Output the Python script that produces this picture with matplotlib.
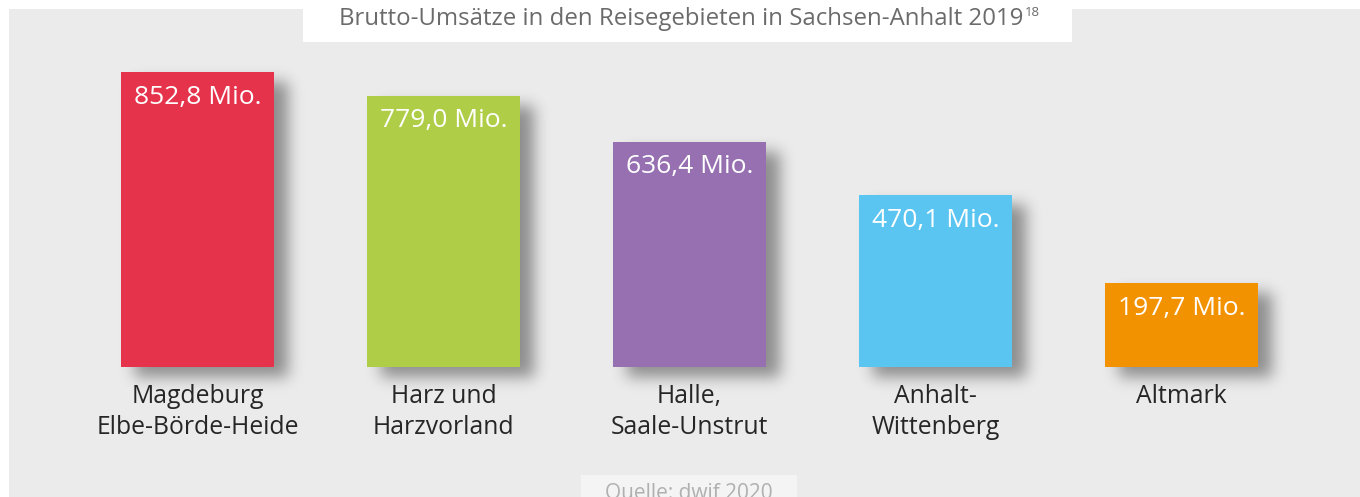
import numpy as np
import matplotlib
matplotlib.use("Agg")
import matplotlib.pyplot as plt
from matplotlib.patches import Rectangle

# ---- data ----
categories = ["Magdeburg\nElbe-Börde-Heide", "Harz und\nHarzvorland", "Halle,\nSaale-Unstrut",
              "Anhalt-\nWittenberg", "Altmark"]
values = [852.8, 779.0, 636.4, 470.1, 197.7]
value_labels = ["852,8 Mio.", "779,0 Mio.", "636,4 Mio.", "470,1 Mio.", "197,7 Mio."]
colors = ["#e6334c", "#afcd46", "#9670b0", "#5bc5f2", "#f39200"]
title = "Brutto-Umsätze in den Reisegebieten in Sachsen-Anhalt 2019"
title_sup = "18"
source = "Quelle: dwif 2020"

W, H = 1360, 497
DPI = 100
plt.rcParams['font.family'] = ['Open Sans', 'DejaVu Sans']

fig = plt.figure(figsize=(W / DPI, H / DPI), dpi=DPI)
fig.patch.set_facecolor("white")

# background axes in pixel coordinates
bg = fig.add_axes([0, 0, 1, 1], zorder=0)
bg.set_xlim(0, W)
bg.set_ylim(H, 0)
bg.axis("off")
bg.add_patch(Rectangle((9, 9), W - 9, H, facecolor="#ebebeb", edgecolor="none", zorder=0))
bg.add_patch(Rectangle((303, -2), 769, 44, facecolor="white", edgecolor="none", zorder=3))
t = bg.text(681, 19, title, ha="center", va="center", fontsize=17.3, color="#6b6b6b", zorder=4)
bg.annotate(title_sup, xy=(1, 0.78), xycoords=t, xytext=(1, 0), textcoords="offset points",
            ha="left", va="center", fontsize=9.5, color="#6b6b6b", zorder=4)
bg.add_patch(Rectangle((581, 475), 216, 30, facecolor="#f4f4f4", edgecolor="none", zorder=3))
bg.text(689, 482, source, ha="center", va="top", fontsize=15, color="#b0b0b0", zorder=4)

# bar axes
BASE = -63
top_val = 900
ax_bottom_px = 367
px_per_unit = 0.322
ax_top_px = ax_bottom_px - (top_val - BASE) * px_per_unit
left_px, right_px = 74.5, 1304.5
ax = fig.add_axes([left_px / W, 1 - ax_bottom_px / H, (right_px - left_px) / W,
                   (ax_bottom_px - ax_top_px) / H], zorder=2)
ax.patch.set_visible(False)
x = np.arange(len(values))
vals = np.array(values)
bars = ax.bar(x, vals - BASE, bottom=BASE, width=0.618, color=colors, zorder=3)
ax.set_xlim(-0.5, len(values) - 0.5)
ax.set_ylim(BASE, top_val)
for s in ax.spines.values():
    s.set_visible(False)
ax.set_yticks([])
ax.set_xticks(x)
ax.set_xticklabels(categories, fontsize=17.8, color="#262626", linespacing=1.35)
ax.tick_params(axis="x", length=0, pad=12)

for xi, v, lab in zip(x, vals, value_labels):
    ax.annotate(lab, (xi, v), xytext=(0, -18), textcoords="offset points",
                ha="center", va="center", fontsize=19, color="white", zorder=5)

# shadow: blurred rectangles derived from bar geometry
mask = np.zeros((H, W))
dx, dy = 14, 10
for b in bars:
    (x0, y0), (x1, y1) = ax.transData.transform([(b.get_x(), b.get_y()),
                                                 (b.get_x() + b.get_width(), b.get_y() + b.get_height())])
    c0, c1 = int(round(x0 + dx)), int(round(x1 + dx))
    r0, r1 = int(round(H - y1 + dy)), int(round(H - y0 + dy))
    mask[max(r0, 0):min(r1, H), max(c0, 0):min(c1, W)] = 1.0
sigma = 7.5
kx = np.arange(-int(4 * sigma), int(4 * sigma) + 1)
k = np.exp(-kx ** 2 / (2 * sigma ** 2))
k /= k.sum()
mask = np.apply_along_axis(lambda r: np.convolve(r, k, mode="same"), 1, mask)
mask = np.apply_along_axis(lambda c: np.convolve(c, k, mode="same"), 0, mask)
rgba = np.zeros((H, W, 4))
rgba[..., 3] = mask * 0.40
bg.imshow(rgba, extent=(0, W, H, 0), zorder=1, interpolation="bilinear", aspect="auto")
bg.set_xlim(0, W)
bg.set_ylim(H, 0)

fig.savefig("out.png", dpi=DPI)
